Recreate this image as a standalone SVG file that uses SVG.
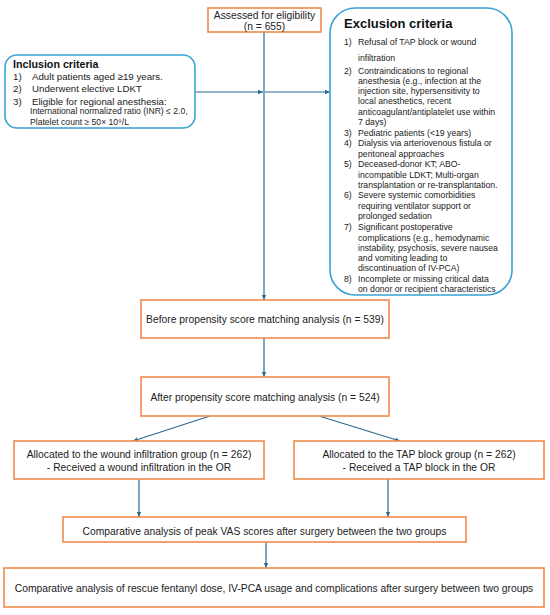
<svg xmlns="http://www.w3.org/2000/svg" width="550" height="615" viewBox="0 0 550 615">
<defs>
<marker id="ah" markerUnits="userSpaceOnUse" markerWidth="6" markerHeight="6" refX="5" refY="3" orient="auto">
<path d="M0,0.8 L5,3 L0,5.2 Z" fill="#2a6b8f"/>
</marker>
</defs>
<style>
.ob{fill:#fff;stroke:#f08a4b;stroke-width:1.6}
.bb{fill:#fff;stroke:#38a3d5;stroke-width:1.6}
.t{font-family:"Liberation Sans",Arial,sans-serif;font-size:10.3px;fill:#222}
.c{text-anchor:middle}
.h{font-family:"Liberation Sans",Arial,sans-serif;font-weight:bold;fill:#111}
.i{font-family:"Liberation Sans",Arial,sans-serif;font-size:9.7px;fill:#222}
.s{font-family:"Liberation Sans",Arial,sans-serif;font-size:8.6px;fill:#222}
.e{font-family:"Liberation Sans",Arial,sans-serif;font-size:8.7px;fill:#222}
.ln{fill:none;stroke:#2a6b8f;stroke-width:1.2;marker-end:url(#ah)}
</style>
<rect width="550" height="615" fill="#fff"/>
<g id="connectors">
<path class="ln" d="M264 32 V300"/>
<path class="ln" d="M195 92 H263"/>
<path class="ln" d="M265 92 H330"/>
<path class="ln" d="M264 338 V377"/>
<path class="ln" d="M210 416 L133 441"/>
<path class="ln" d="M319 416 L400 441"/>
<path class="ln" d="M139 479 V517"/>
<path class="ln" d="M388 479 V517"/>
<path class="ln" d="M266 542 V568"/>
</g>
<g id="assessed">
<rect class="ob" x="208" y="8" width="113" height="24"/>
<text class="t c" x="264.5" y="18.5" font-size="10">Assessed for eligibility</text>
<text class="t c" x="264.5" y="29.5" font-size="10">(n = 655)</text>
</g>
<g id="inclusion">
<rect class="bb" x="5" y="55" width="190" height="73" rx="12"/>
<text class="h" x="13" y="68" font-size="10.7">Inclusion criteria</text>
<text class="i" x="13" y="79.5">1)</text><text class="i" x="32" y="79.5">Adult patients aged ≥19 years.</text>
<text class="i" x="13" y="91.5">2)</text><text class="i" x="32" y="91.5">Underwent elective LDKT</text>
<text class="i" x="13" y="104.5">3)</text><text class="i" x="32" y="104.5">Eligible for regional anesthesia:</text>
<text class="s" x="30" y="114">International normalized ratio (INR) ≤ 2.0,</text>
<text class="s" x="30" y="125">Platelet count ≥ 50× 10⁹/L</text>
</g>
<g id="exclusion">
<rect class="bb" x="330" y="8" width="182" height="287" rx="25"/>
<text class="h" x="344" y="28" font-size="13">Exclusion criteria</text>
<text class="e" x="344" y="45">1)</text><text class="e" x="358" y="45">Refusal of TAP block or wound</text>
<text class="e" x="358" y="61">infiltration</text>
<text class="e" x="344" y="74">2)</text><text class="e" x="358" y="74">Contraindications to regional</text>
<text class="e" x="358" y="84">anesthesia (e.g., infection at the</text>
<text class="e" x="358" y="94">injection site, hypersensitivity to</text>
<text class="e" x="358" y="104">local anesthetics, recent</text>
<text class="e" x="358" y="115">anticoagulant/antiplatelet use within</text>
<text class="e" x="358" y="125">7 days)</text>
<text class="e" x="344" y="136">3)</text><text class="e" x="358" y="136">Pediatric patients (&lt;19 years)</text>
<text class="e" x="344" y="146">4)</text><text class="e" x="358" y="146">Dialysis via arteriovenous fistula or</text>
<text class="e" x="358" y="157">peritoneal approaches</text>
<text class="e" x="344" y="167">5)</text><text class="e" x="358" y="167">Deceased-donor KT; ABO-</text>
<text class="e" x="358" y="178">incompatible LDKT; Multi-organ</text>
<text class="e" x="358" y="188">transplantation or re-transplantation.</text>
<text class="e" x="344" y="198">6)</text><text class="e" x="358" y="198">Severe systemic comorbidities</text>
<text class="e" x="358" y="209">requiring ventilator support or</text>
<text class="e" x="358" y="219">prolonged sedation</text>
<text class="e" x="344" y="230">7)</text><text class="e" x="358" y="230">Significant postoperative</text>
<text class="e" x="358" y="241">complications (e.g., hemodynamic</text>
<text class="e" x="358" y="251">instability, psychosis, severe nausea</text>
<text class="e" x="358" y="261">and vomiting leading to</text>
<text class="e" x="358" y="271">discontinuation of IV-PCA)</text>
<text class="e" x="344" y="282">8)</text><text class="e" x="358" y="282">Incomplete or missing critical data</text>
<text class="e" x="358" y="292">on donor or recipient characteristics</text>
</g>
<g id="before">
<rect class="ob" x="141" y="300" width="248" height="38"/>
<text class="t c" x="265" y="322.5">Before propensity score matching analysis (n = 539)</text>
</g>
<g id="after">
<rect class="ob" x="141" y="377" width="248" height="39"/>
<text class="t c" x="265" y="400.5">After propensity score matching analysis (n = 524)</text>
</g>
<g id="wound">
<rect class="ob" x="14" y="441" width="250" height="38"/>
<text class="t c" x="139" y="457.5">Allocated to the wound infiltration group (n = 262)</text>
<text class="t c" x="139" y="470.5">- Received a wound infiltration in the OR</text>
</g>
<g id="tap">
<rect class="ob" x="294" y="441" width="250" height="38"/>
<text class="t c" x="419" y="457.5">Allocated to the TAP block group (n = 262)</text>
<text class="t c" x="419" y="470.5">- Received a TAP block in the OR</text>
</g>
<g id="vas">
<rect class="ob" x="63" y="517" width="403" height="25"/>
<text class="t c" x="264.5" y="534.5">Comparative analysis of peak VAS scores after surgery between the two groups</text>
</g>
<g id="rescue">
<rect class="ob" x="4" y="568" width="540" height="39"/>
<text class="t c" x="274" y="591.5">Comparative analysis of rescue fentanyl dose, IV-PCA usage and complications after surgery between two groups</text>
</g>
</svg>
